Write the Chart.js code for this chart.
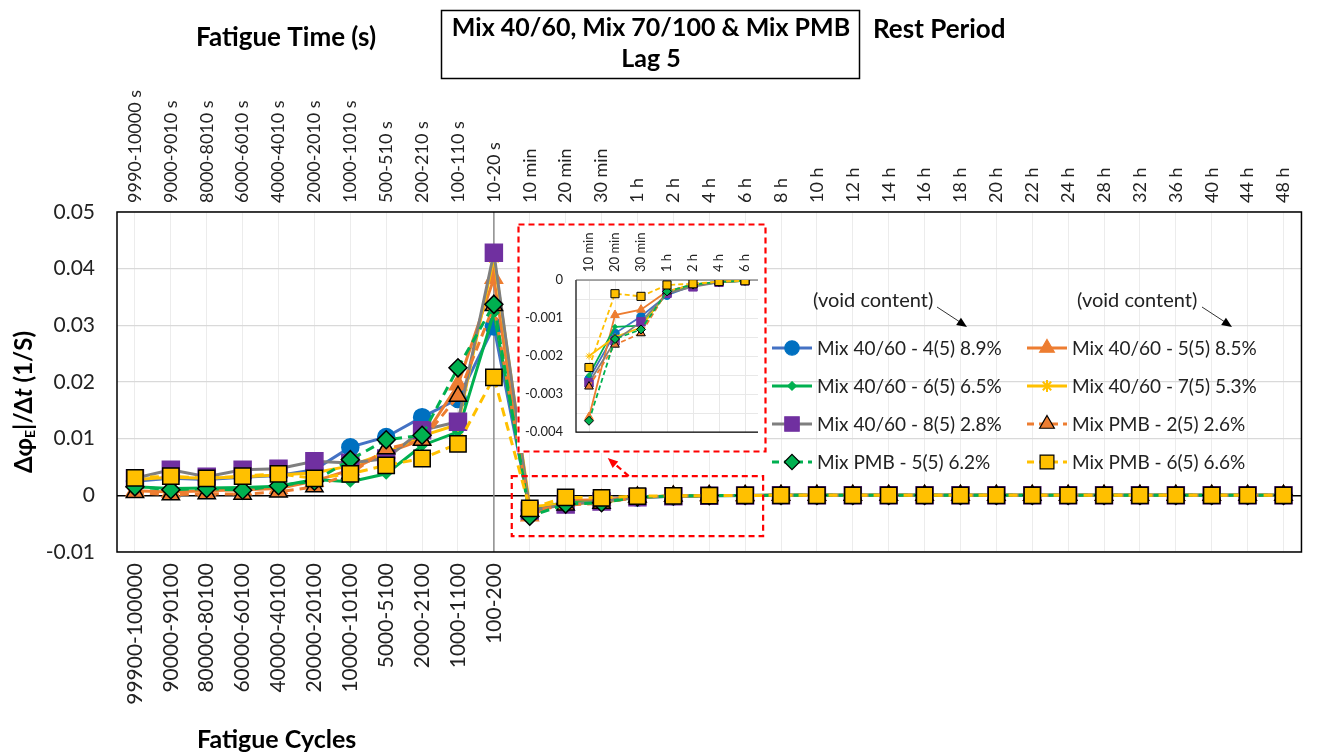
<!DOCTYPE html>
<html>
<head>
<meta charset="utf-8">
<script src="https://cdn.jsdelivr.net/npm/chart.js@4.4.0/dist/chart.umd.min.js"></script>
<style>
  body { margin: 0; background: #fff; }
  #wrap { position: relative; width: 1320px; height: 755px; }
  #inset { position: absolute; left: 517px; top: 223px; }
</style>
</head>
<body>
<div id="wrap">
  <canvas id="mainChart" width="1320" height="755"></canvas>
  <canvas id="inset" width="250" height="230"></canvas>
</div>
<script>
// categories
const fatigueTimes = ['9990-10000 s', '9000-9010 s', '8000-8010 s', '6000-6010 s', '4000-4010 s', '2000-2010 s',
  '1000-1010 s', '500-510 s', '200-210 s', '100-110 s', '10-20 s'];
const restTimes = ['10 min', '20 min', '30 min', '1 h', '2 h', '4 h', '6 h', '8 h', '10 h', '12 h', '14 h', '16 h',
  '18 h', '20 h', '22 h', '24 h', '28 h', '32 h', '36 h', '40 h', '44 h', '48 h'];
const fatigueCycles = ['99900-100000', '90000-90100', '80000-80100', '60000-60100', '40000-40100', '20000-20100',
  '10000-10100', '5000-5100', '2000-2100', '1000-1100', '100-200'];
const timeLabels = fatigueTimes.concat(restTimes);

// values: 11 fatigue points then 22 rest points
const mix4060_4 = [0.0025, 0.003, 0.0028, 0.0032, 0.0035, 0.0045, 0.0085, 0.0103, 0.0138, 0.017, 0.0298,
  -0.0026, -0.0014, -0.00096, -0.0004, -0.00015, -0.00005, -0.00002, 0, 0, 0, 0, 0, 0, 0, 0, 0, 0, 0, 0, 0, 0, 0];
const mix4060_5 = [0.0008, 0.0006, 0.0008, 0.001, 0.0012, 0.0025, 0.0045, 0.0075, 0.0098, 0.0195, 0.0383,
  -0.0036, -0.00092, -0.00078, -0.0003, -0.00012, -0.00005, -0.00002, 0, 0, 0, 0, 0, 0, 0, 0, 0, 0, 0, 0, 0, 0, 0];
const mix4060_6 = [0.0015, 0.0012, 0.0013, 0.0014, 0.0016, 0.0028, 0.0024, 0.0038, 0.0088, 0.0112, 0.0322,
  -0.0025, -0.00123, -0.0012, -0.00035, -0.00015, -0.00006, -0.00002, 0, 0, 0, 0, 0, 0, 0, 0, 0, 0, 0, 0, 0, 0, 0];
const mix4060_7 = [0.0028, 0.0032, 0.003, 0.0033, 0.0036, 0.004, 0.0052, 0.0075, 0.0105, 0.0125, 0.042,
  -0.002, -0.0015, -0.00125, -0.0003, -0.00012, -0.00005, -0.00002, 0, 0, 0, 0, 0, 0, 0, 0, 0, 0, 0, 0, 0, 0, 0];
const mix4060_8 = [0.003, 0.0045, 0.0033, 0.0045, 0.0047, 0.006, 0.0057, 0.0065, 0.0115, 0.013, 0.0428,
  -0.0027, -0.0016, -0.0011, -0.00035, -0.00018, -0.00006, -0.00002, 0, 0, 0, 0, 0, 0, 0, 0, 0, 0, 0, 0, 0, 0, 0];
const mixPMB_2 = [0.0005, 0.0001, 0.0003, 0.0002, 0.0006, 0.0015, 0.0038, 0.0082, 0.0097, 0.0175, 0.0335,
  -0.0028, -0.0017, -0.0014, -0.0003, -0.00012, -0.00005, -0.00002, 0, 0, 0, 0, 0, 0, 0, 0, 0, 0, 0, 0, 0, 0, 0];
const mixPMB_5 = [0.0015, 0.001, 0.0012, 0.0009, 0.0017, 0.0025, 0.0063, 0.0098, 0.0106, 0.0225, 0.0337,
  -0.0037, -0.00155, -0.0013, -0.0003, -0.00012, -0.00005, -0.00002, 0, 0, 0, 0, 0, 0, 0, 0, 0, 0, 0, 0, 0, 0, 0];
const mixPMB_6 = [0.0031, 0.0034, 0.003, 0.0034, 0.0038, 0.003, 0.0038, 0.0053, 0.0065, 0.0091, 0.0208,
  -0.0023, -0.00036, -0.00043, -0.00013, -0.0001, -0.00004, -0.00002, 0, 0, 0, 0, 0, 0, 0, 0, 0, 0, 0, 0, 0, 0, 0];

// series look
const series = [
  { label: 'Mix 40/60 - 4(5) 8.9%', data: mix4060_4, line: '#4472C4', fill: '#0070C0', edge: '#0070C0', shape: 'circle', r: 8.5, dash: [] },
  { label: 'Mix 40/60 - 5(5) 8.5%', data: mix4060_5, line: '#ED7D31', fill: '#ED7D31', edge: '#ED7D31', shape: 'triangle', r: 10, dash: [] },
  { label: 'Mix 40/60 - 6(5) 6.5%', data: mix4060_6, line: '#00B050', fill: '#00B050', edge: '#00B050', shape: 'rectRot', r: 5, dash: [] },
  { label: 'Mix 40/60 - 7(5) 5.3%', data: mix4060_7, line: '#FFC000', fill: '#FFC000', edge: '#FFC000', shape: 'star', r: 7, dash: [] },
  { label: 'Mix 40/60 - 8(5) 2.8%', data: mix4060_8, line: '#7F7F7F', fill: '#7030A0', edge: '#7030A0', shape: 'rect', r: 12, dash: [] },
  { label: 'Mix PMB - 2(5) 2.6%', data: mixPMB_2, line: '#ED7D31', fill: '#ED7D31', edge: '#000000', shape: 'triangle', r: 10, dash: [9, 6] },
  { label: 'Mix PMB - 5(5) 6.2%', data: mixPMB_5, line: '#00B050', fill: '#00B050', edge: '#000000', shape: 'rectRot', r: 9, dash: [9, 6] },
  { label: 'Mix PMB - 6(5) 6.6%', data: mixPMB_6, line: '#FFC000', fill: '#FFC000', edge: '#000000', shape: 'rect', r: 11.5, dash: [9, 6] }
];

function drawMarker(ctx, shape, r, x, y, fill, stroke, bw) {
  ctx.save();
  ctx.setLineDash([]);
  ctx.fillStyle = fill;
  ctx.strokeStyle = stroke;
  ctx.lineWidth = bw;
  ctx.beginPath();
  if (shape === 'circle') {
    ctx.arc(x, y, r, 0, Math.PI * 2);
  } else if (shape === 'triangle') {
    ctx.moveTo(x, y - r);
    ctx.lineTo(x + r * 0.866, y + r * 0.5);
    ctx.lineTo(x - r * 0.866, y + r * 0.5);
    ctx.closePath();
  } else if (shape === 'rectRot') {
    ctx.moveTo(x, y - r); ctx.lineTo(x + r, y); ctx.lineTo(x, y + r); ctx.lineTo(x - r, y); ctx.closePath();
  } else if (shape === 'rect') {
    const s = r * Math.SQRT1_2;
    ctx.rect(x - s, y - s, 2 * s, 2 * s);
  } else if (shape === 'star') {
    ctx.moveTo(x - r, y); ctx.lineTo(x + r, y);
    ctx.moveTo(x, y - r); ctx.lineTo(x, y + r);
    const d = r * Math.SQRT1_2;
    ctx.moveTo(x - d, y - d); ctx.lineTo(x + d, y + d);
    ctx.moveTo(x - d, y + d); ctx.lineTo(x + d, y - d);
  }
  if (shape !== 'star') ctx.fill();
  if (bw > 0) ctx.stroke();
  ctx.restore();
}

function arrowHead(ctx, x1, y1, x2, y2, len, color) {
  const a = Math.atan2(y2 - y1, x2 - x1);
  ctx.save();
  ctx.setLineDash([]);
  ctx.fillStyle = color;
  ctx.beginPath();
  ctx.moveTo(x2, y2);
  ctx.lineTo(x2 - len * Math.cos(a - 0.4), y2 - len * Math.sin(a - 0.4));
  ctx.lineTo(x2 - len * Math.cos(a + 0.4), y2 - len * Math.sin(a + 0.4));
  ctx.closePath();
  ctx.fill();
  ctx.restore();
}

const mainDecor = {
  id: 'mainDecor',
  beforeDraw(chart) {
    const ctx = chart.ctx;
    ctx.save();
    ctx.fillStyle = '#fff';
    ctx.fillRect(0, 0, chart.width, chart.height);
    ctx.restore();
  },
  beforeDatasetsDraw(chart) {
    const { ctx, chartArea: a, scales } = chart;
    ctx.save();
    // divider between fatigue and rest
    const xd = scales.x.getPixelForValue(10);
    ctx.strokeStyle = '#8c8c8c';
    ctx.lineWidth = 1.5;
    ctx.beginPath(); ctx.moveTo(xd, a.top); ctx.lineTo(xd, a.bottom); ctx.stroke();
    // frame
    ctx.strokeStyle = '#000';
    ctx.lineWidth = 1.5;
    ctx.strokeRect(a.left, a.top, a.right - a.left, a.bottom - a.top);
    ctx.restore();
  },
  afterDatasetsDraw(chart) {
    const { ctx, scales } = chart;
    ctx.save();
    // legend
    ctx.font = '19px Lato';
    ctx.textBaseline = 'middle';
    ctx.textAlign = 'left';
    series.forEach((s, i) => {
      const col = i % 2, row = Math.floor(i / 2);
      const x0 = col === 0 ? 772 : 1027;
      const y = 348 + row * 38;
      ctx.save();
      ctx.strokeStyle = s.line;
      ctx.lineWidth = 3;
      ctx.setLineDash(s.dash.length ? [7, 5] : []);
      ctx.beginPath(); ctx.moveTo(x0, y); ctx.lineTo(x0 + 40, y); ctx.stroke();
      ctx.restore();
      drawMarker(ctx, s.shape, s.r * 0.85, x0 + 20, y, s.fill, s.edge, s.shape === 'star' ? 2 : 1.2);
      ctx.fillStyle = '#222';
      ctx.fillText(s.label, x0 + 45, y + 1);
    });
    // (void content) notes
    ctx.fillStyle = '#222';
    ctx.font = '20px Lato';
    ctx.fillText('(void content)', 813, 301);
    ctx.fillText('(void content)', 1077, 301);
    ctx.strokeStyle = '#333';
    ctx.lineWidth = 1;
    [[937, 307, 967, 327], [1202, 307, 1232, 327]].forEach(p => {
      ctx.beginPath(); ctx.moveTo(p[0], p[1]); ctx.lineTo(p[2] - 4, p[3] - 3); ctx.stroke();
      arrowHead(ctx, p[0], p[1], p[2], p[3], 11, '#000');
    });
    // zoom box around first rest points
    const bl = scales.x.getPixelForValue(11) - 18;
    const br = scales.x.getPixelForValue(17) + 18;
    const bt = scales.y.getPixelForValue(0.0034);
    const bb = scales.y.getPixelForValue(-0.0072);
    ctx.strokeStyle = '#FF0000';
    ctx.lineWidth = 2.2;
    ctx.setLineDash([6, 4]);
    ctx.strokeRect(bl, bt, br - bl, bb - bt);
    ctx.beginPath(); ctx.moveTo(bl + 117, bt); ctx.lineTo(bl + 102, bt - 13); ctx.stroke();
    arrowHead(ctx, bl + 117, bt, bl + 96, bt - 18, 11, '#FF0000');
    ctx.restore();
  },
  afterDraw(chart) {
    const ctx = chart.ctx;
    ctx.save();
    ctx.fillStyle = '#000';
    ctx.textBaseline = 'middle';
    ctx.textAlign = 'left';
    ctx.font = 'bold 26px Lato';
    ctx.fillText('Fatigue Time (s)', 196, 38);
    ctx.fillText('Rest Period', 873, 30);
    ctx.font = 'bold 25px Lato';
    ctx.fillText('Fatigue Cycles', 197, 740);
    ctx.strokeStyle = '#000';
    ctx.lineWidth = 1.5;
    ctx.strokeRect(441.5, 10.5, 418, 68);
    ctx.textAlign = 'center';
    ctx.font = 'bold 25px Lato';
    ctx.fillText('Mix 40/60, Mix 70/100 & Mix PMB', 651, 28);
    ctx.fillText('Lag 5', 651, 59);
    // y axis title
    ctx.translate(24, 402);
    ctx.rotate(-Math.PI / 2);
    const parts = [['Δφ', 'bold 24px Lato', 0], ['E', 'bold 14px Lato', 6], ['|/Δ', 'bold 24px Lato', 0],
      ['t', 'bold italic 24px Lato', 0], [' (1/S)', 'bold 24px Lato', 0]];
    let total = 0;
    parts.forEach(p => { ctx.font = p[1]; total += ctx.measureText(p[0]).width; });
    let cx = -total / 2;
    ctx.textAlign = 'left';
    parts.forEach(p => { ctx.font = p[1]; ctx.fillText(p[0], cx, p[2]); cx += ctx.measureText(p[0]).width; });
    ctx.restore();
  }
};

new Chart(document.getElementById('mainChart'), {
  type: 'line',
  data: {
    labels: timeLabels,
    datasets: series.map((s, i) => ({
      label: s.label,
      data: s.data,
      order: 8 - i,
      borderColor: s.line,
      borderWidth: 3,
      borderDash: s.dash,
      pointStyle: s.shape,
      pointRadius: s.r,
      pointBackgroundColor: s.fill,
      pointBorderColor: s.edge,
      pointBorderWidth: s.shape === 'star' ? 2 : 1.5,
      tension: 0,
      fill: false
    }))
  },
  options: {
    responsive: false,
    animation: false,
    layout: { padding: { top: 90, left: 0, right: 9, bottom: 0 } },
    plugins: { legend: { display: false }, tooltip: { enabled: false } },
    scales: {
      x: {
        type: 'category',
        position: 'bottom',
        offset: true,
        border: { display: false },
        grid: { color: '#ececec', drawTicks: false },
        ticks: {
          autoSkip: false, minRotation: 90, maxRotation: 90, padding: 11,
          color: '#222', font: { family: 'Lato', size: 21 },
          callback: (v, i) => fatigueCycles[i] || ''
        },
        afterFit: s => { s.height = 203; }
      },
      xTop: {
        type: 'category',
        position: 'top',
        offset: true,
        border: { display: false },
        grid: { display: false, drawTicks: false },
        ticks: {
          autoSkip: false, minRotation: 90, maxRotation: 90, padding: 9, labelOffset: 21.6,
          color: '#222', font: { family: 'Lato', size: 18 }
        },
        afterFit: s => { s.height = 122; }
      },
      y: {
        min: -0.01,
        max: 0.05,
        border: { display: false },
        grid: {
          drawTicks: false,
          color: c => Math.abs(c.tick.value) < 1e-9 ? '#000' : '#d9d9d9',
          lineWidth: c => Math.abs(c.tick.value) < 1e-9 ? 1.5 : 1.3
        },
        ticks: {
          stepSize: 0.01, padding: 22, color: '#222', font: { family: 'Lato', size: 21 },
          callback: v => Math.abs(v) < 1e-9 ? '0' : (+v.toFixed(2)).toString()
        },
        afterFit: s => { s.width = 117; }
      }
    }
  },
  plugins: [mainDecor]
});

// inset: first seven rest points
const insetLabels = restTimes.slice(0, 7);

const insetDecor = {
  id: 'insetDecor',
  beforeDraw(chart) {
    const ctx = chart.ctx;
    ctx.save();
    ctx.fillStyle = '#fff';
    ctx.fillRect(0, 0, chart.width, chart.height);
    ctx.restore();
  },
  beforeDatasetsDraw(chart) {
    const { ctx, chartArea: a } = chart;
    ctx.save();
    ctx.strokeStyle = '#000';
    ctx.lineWidth = 1.2;
    ctx.beginPath();
    ctx.moveTo(a.left, a.top); ctx.lineTo(a.left, a.bottom); ctx.lineTo(a.right, a.bottom);
    ctx.stroke();
    ctx.strokeStyle = '#595959';
    ctx.beginPath(); ctx.moveTo(a.left, a.top); ctx.lineTo(a.right, a.top); ctx.stroke();
    ctx.restore();
  },
  afterDraw(chart) {
    const ctx = chart.ctx;
    ctx.save();
    ctx.strokeStyle = '#FF0000';
    ctx.lineWidth = 2.2;
    ctx.setLineDash([6, 4]);
    ctx.strokeRect(1.5, 1.5, chart.width - 3, chart.height - 3);
    ctx.restore();
  }
};

new Chart(document.getElementById('inset'), {
  type: 'line',
  data: {
    labels: insetLabels,
    datasets: series.map((s, i) => ({
      label: s.label,
      data: s.data.slice(11, 18),
      order: 8 - i,
      borderColor: s.line,
      borderWidth: 1.8,
      borderDash: s.dash.length ? [5, 3] : [],
      pointStyle: s.shape,
      pointRadius: s.r * 0.5,
      pointBackgroundColor: s.fill,
      pointBorderColor: s.edge,
      pointBorderWidth: 1,
      tension: 0,
      fill: false
    }))
  },
  options: {
    responsive: false,
    animation: false,
    layout: { padding: { top: 0, left: 0, right: 9, bottom: 14 } },
    plugins: { legend: { display: false }, tooltip: { enabled: false } },
    scales: {
      x: {
        type: 'category',
        position: 'top',
        offset: true,
        border: { display: false },
        grid: { color: '#e8e8e8', drawTicks: false },
        ticks: {
          autoSkip: false, minRotation: 90, maxRotation: 90, padding: 8, labelOffset: 15.6,
          color: '#222', font: { family: 'Lato', size: 13 }
        },
        afterFit: s => { s.height = 57; }
      },
      y: {
        min: -0.004,
        max: 0,
        border: { display: false },
        grid: { color: '#e8e8e8', drawTicks: false },
        ticks: {
          stepSize: 0.0005, padding: 13, color: '#222', font: { family: 'Lato', size: 13 },
          callback: v => {
            const k = Math.round(v * 2000);
            if (k % 2 !== 0) return '';
            return k === 0 ? '0' : (k / 2000).toFixed(3);
          }
        },
        afterFit: s => { s.width = 59; }
      }
    }
  },
  plugins: [insetDecor]
});
</script>
</body>
</html>
